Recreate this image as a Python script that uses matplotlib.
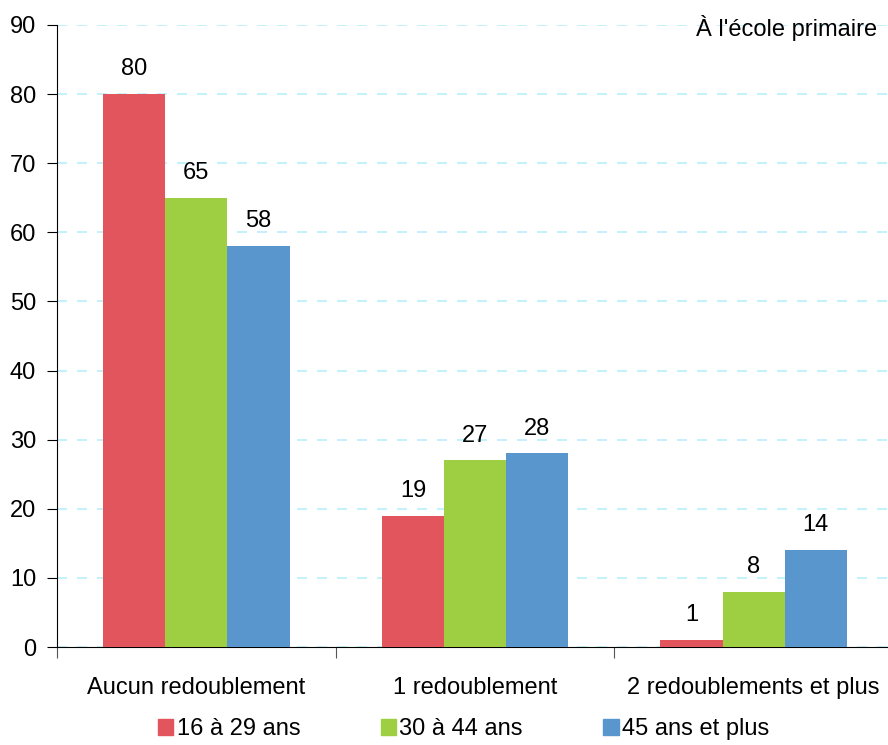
import numpy as np
import matplotlib.pyplot as plt
from matplotlib.patches import Patch

plt.rcParams['font.family'] = ['Liberation Sans', 'DejaVu Sans']

categories = ["Aucun redoublement", "1 redoublement", "2 redoublements et plus"]
series_names = ["16 à 29 ans", "30 à 44 ans", "45 ans et plus"]
v_16_29 = [80, 19, 1]
v_30_44 = [65, 27, 8]
v_45_plus = [58, 28, 14]
colors = ["#E2555C", "#9ECE42", "#5896CD"]

fs = 17

fig = plt.figure(figsize=(8.88, 7.45), dpi=100)
ax = fig.add_axes([0.0642, 0.1315, 0.9415, 0.835])

x = np.arange(len(categories))
w = 0.223
for i, (vals, c) in enumerate(zip([v_16_29, v_30_44, v_45_plus], colors)):
    pos = x + (i - 1) * w
    ax.bar(pos, vals, width=w, color=c, zorder=3)
    for p, v in zip(pos, vals):
        ax.text(p, v + 2.0, str(v), ha='center', va='bottom', fontsize=fs)

ax.set_ylim(0, 90)
ax.set_xlim(-0.5, 2.5)
ax.set_yticks(range(0, 91, 10))
ax.tick_params(axis='y', labelsize=fs, length=7, direction='out', pad=8)
ax.yaxis.grid(True, color='#B8F0FA', linestyle=(0, (6, 6)), linewidth=1.2, zorder=0)
ax.set_axisbelow(True)

ax.set_xticks([-0.5, 0.5, 1.5, 2.5])
ax.set_xticklabels([])
ax.tick_params(axis='x', length=8, direction='out', color='#555555')
for xi, lab in zip(x, categories):
    ax.text(xi, -4.4, lab, ha='center', va='top', fontsize=fs)

for s in ['top', 'right']:
    ax.spines[s].set_visible(False)

fig.text(0.988, 0.962, "À l'école primaire", ha='right', va='center', fontsize=fs)

handles = [Patch(color=c) for c in colors]
fig.legend(handles, series_names, loc='center', bbox_to_anchor=(0.522, 0.021),
           ncol=3, frameon=False, fontsize=fs, handlelength=0.65, handleheight=0.65,
           handletextpad=0.15, columnspacing=3.4)

fig.savefig("out.png", dpi=100)
